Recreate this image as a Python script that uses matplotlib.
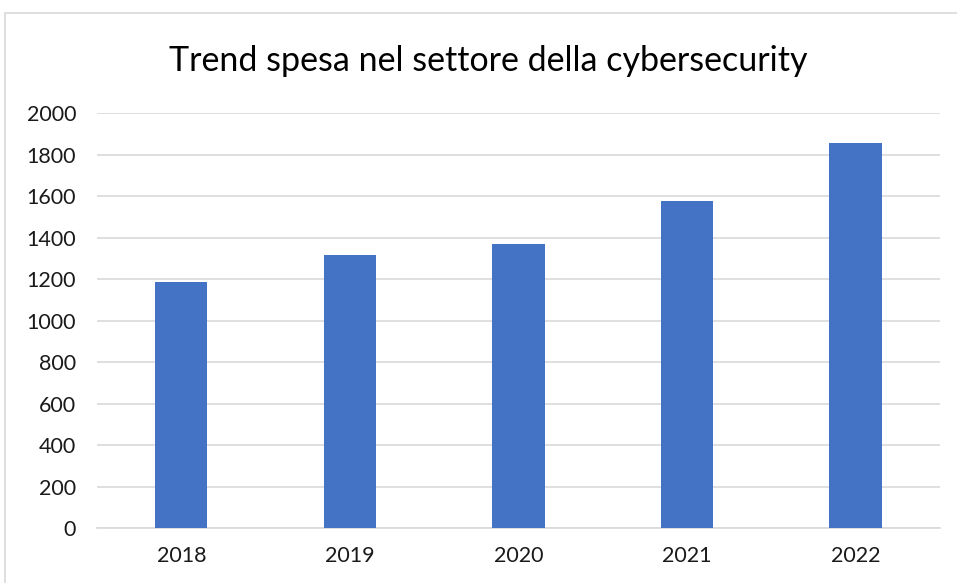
import matplotlib.pyplot as plt
from matplotlib.patches import Rectangle

years = ['2018', '2019', '2020', '2021', '2022']
spesa = [1187, 1317, 1370, 1576, 1856]

plt.rcParams['font.family'] = ['Lato', 'DejaVu Sans']

fig = plt.figure(figsize=(9.57, 5.83), dpi=100)
ax = fig.add_axes([0.1014, 0.0943, 0.8806, 0.7117])

ax.bar(years, spesa, width=0.31, color='#4472c4', zorder=3)
ax.set_ylim(0, 2000)
ax.set_yticks(range(0, 2001, 200))
ax.set_xlim(-0.5, 4.5)
ax.grid(axis='y', color='#d9d9d9', linewidth=1.2, zorder=0)
for s in ['top', 'right', 'left']:
    ax.spines[s].set_visible(False)
ax.spines['bottom'].set_color('#d9d9d9')
ax.spines['bottom'].set_linewidth(1.2)
ax.tick_params(length=0, labelsize=15.5, colors='#1a1a1a')
ax.tick_params(axis='y', pad=15)
ax.tick_params(axis='x', pad=13)

fig.text(0.51, 0.895, 'Trend spesa nel settore della cybersecurity',
         ha='center', va='center', fontsize=24.5, color='#000000')

fig.patches.append(Rectangle((5 / 957, -0.05), 1.2, 1 - 13 / 583 + 0.05,
                             transform=fig.transFigure, fill=False,
                             edgecolor='#d9d9d9', linewidth=1.2))

plt.savefig('out.png', dpi=100)
